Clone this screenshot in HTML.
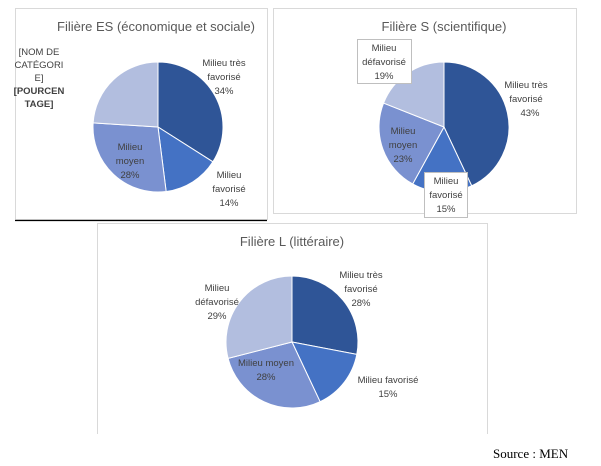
<!DOCTYPE html>
<html><head><meta charset="utf-8"><style>
html,body{margin:0;padding:0;background:#fff;width:601px;height:466px;overflow:hidden}
svg{display:block}
text{font-family:"Liberation Sans",sans-serif}
text.src{font-family:"Liberation Serif",serif}
</style></head><body>
<svg id="s" width="601" height="466" viewBox="0 0 601 466" xmlns="http://www.w3.org/2000/svg">
<rect x="15.5" y="8.5" width="252" height="211" fill="#fff" stroke="#d9d9d9"/>
<line x1="15" y1="220.5" x2="267" y2="220.5" stroke="#000" stroke-width="1.2"/>
<rect x="273.5" y="8.5" width="303" height="205" fill="#fff" stroke="#d9d9d9"/>
<path d="M97.5 434 V223.5 H487.5 V434" fill="#fff" stroke="#d9d9d9"/>
<g id="p1"></g><g id="p2"></g><g id="p3"></g>
<g font-size="13" fill="#595959" text-anchor="middle">
<text x="156" y="31">Filière ES (économique et sociale)</text>
<text x="444" y="31">Filière S (scientifique)</text>
<text x="292" y="246">Filière L (littéraire)</text>
</g>
<rect x="357.5" y="39.5" width="54" height="44" fill="#fff" stroke="#bfbfbf"/>
<rect x="424.5" y="172.5" width="43" height="45" fill="#fff" stroke="#bfbfbf"/>
<g font-size="9.5" fill="#404040" text-anchor="middle">
<text x="39" y="55">[NOM DE</text><text x="39" y="68">CATÉGORI</text><text x="39" y="81">E]</text>
<text x="39" y="94" font-weight="bold">[POURCEN</text><text x="39" y="107" font-weight="bold">TAGE]</text>
<text x="224" y="66">Milieu très</text><text x="224" y="80">favorisé</text><text x="224" y="94">34%</text>
<text x="229" y="178">Milieu</text><text x="229" y="192">favorisé</text><text x="229" y="206">14%</text>
<text x="130" y="150">Milieu</text><text x="130" y="164">moyen</text><text x="130" y="178">28%</text>
<text x="384" y="51">Milieu</text><text x="384" y="65">défavorisé</text><text x="384" y="79">19%</text>
<text x="526" y="88">Milieu très</text><text x="526" y="102">favorisé</text><text x="530" y="116">43%</text>
<text x="403" y="134">Milieu</text><text x="403" y="148">moyen</text><text x="403" y="162">23%</text>
<text x="446" y="184">Milieu</text><text x="446" y="198">favorisé</text><text x="446" y="212">15%</text>
<text x="361" y="278">Milieu très</text><text x="361" y="292">favorisé</text><text x="361" y="306">28%</text>
<text x="217" y="291">Milieu</text><text x="217" y="305">défavorisé</text><text x="217" y="319">29%</text>
<text x="266" y="366">Milieu moyen</text><text x="266" y="380">28%</text>
<text x="388" y="383">Milieu favorisé</text><text x="388" y="397">15%</text>
</g>
<text class="src" x="493" y="458" font-size="13" fill="#000">Source : MEN</text>
</svg>
<script>
var cols=["#2F5597","#4472C4","#7A91D0","#B2BEDF"];
function pie(id,cx,cy,r,v){var g=document.getElementById(id),a=0,s="";
for(var i=0;i<v.length;i++){var b=a+v[i]/100*2*Math.PI;
var x1=cx+r*Math.sin(a),y1=cy-r*Math.cos(a),x2=cx+r*Math.sin(b),y2=cy-r*Math.cos(b);
s+='<path d="M'+cx+' '+cy+' L'+x1+' '+y1+' A'+r+' '+r+' 0 '+((b-a)>Math.PI?1:0)+' 1 '+x2+' '+y2+' Z" fill="'+cols[i]+'" stroke="#fff" stroke-width="1"/>';a=b;}
g.innerHTML=s;}
pie("p1",158,127,65,[34,14,28,24]);
pie("p2",444,127,65,[43,15,23,19]);
pie("p3",292,342,66,[28,15,28,29]);
</script>
</body></html>
